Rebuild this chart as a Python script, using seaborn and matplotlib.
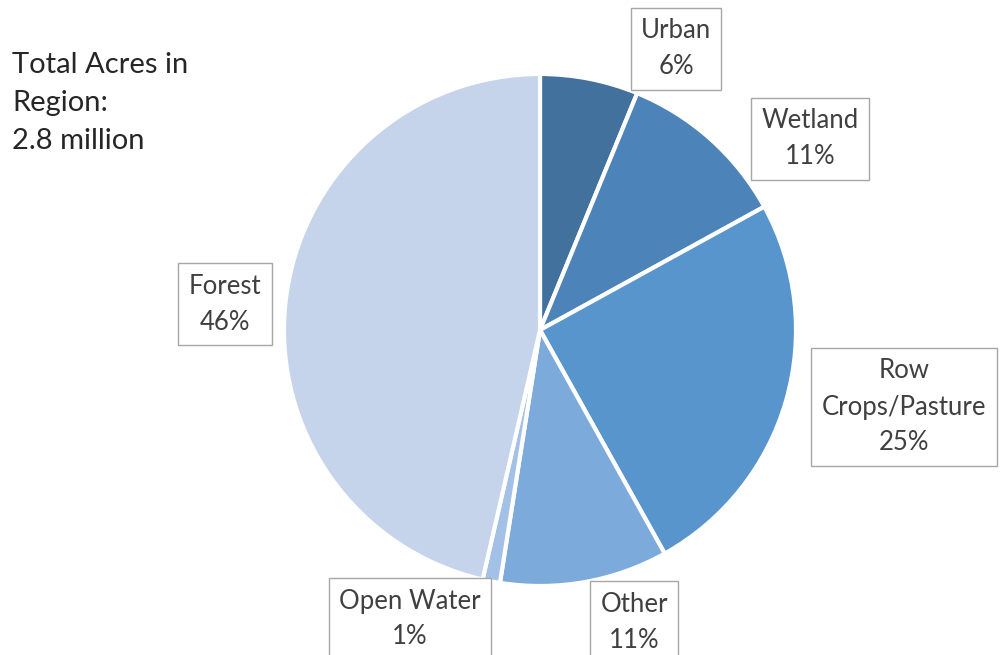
import matplotlib
matplotlib.use("Agg")
import matplotlib.pyplot as plt
import seaborn as sns

# land cover shares (read clockwise from 12 o'clock)
categories = ["Urban", "Wetland", "Row\nCrops/Pasture", "Other", "Open Water", "Forest"]
shares = [6.2, 10.8, 24.9, 10.6, 1.1, 46.4]
pct_labels = ["6%", "11%", "25%", "11%", "1%", "46%"]
colors = ["#41719c", "#4c83b8", "#5795cc", "#7caadb", "#a3c1e6", "#c5d4ea"]

total_text = "Total Acres in\nRegion:\n2.8 million"

# label box centres in pixel space (y from top)
label_pos = [(676, 49), (810, 139), (904, 407), (634, 622), (410, 619), (225, 304)]

W, H = 1000, 655

sns.set_theme(style="white")
plt.rcParams["font.family"] = ["Lato", "DejaVu Sans"]

fig = plt.figure(figsize=(W / 100, H / 100), dpi=100)
ax = fig.add_axes([0, 0, 1, 1])

ax.pie(shares, colors=colors, startangle=90, counterclock=False,
       center=(540, H - 330), radius=256, frame=False,
       wedgeprops=dict(edgecolor="white", linewidth=3))

# pie() resets the limits, so fix them afterwards
ax.set_xlim(0, W)
ax.set_ylim(0, H)
ax.set_aspect("equal")
ax.axis("off")

for name, pct, (x, y) in zip(categories, pct_labels, label_pos):
    ax.text(x, H - y, f"{name}\n{pct}", ha="center", va="center",
            fontsize=18.5, color="#404040", linespacing=1.55,
            bbox=dict(boxstyle="square,pad=0.4", facecolor="white",
                      edgecolor="#a6a6a6", linewidth=1))

ax.text(12, H - 103, total_text, ha="left", va="center", fontsize=21,
        color="#262626", linespacing=1.55)

fig.savefig("out.png", dpi=100)
